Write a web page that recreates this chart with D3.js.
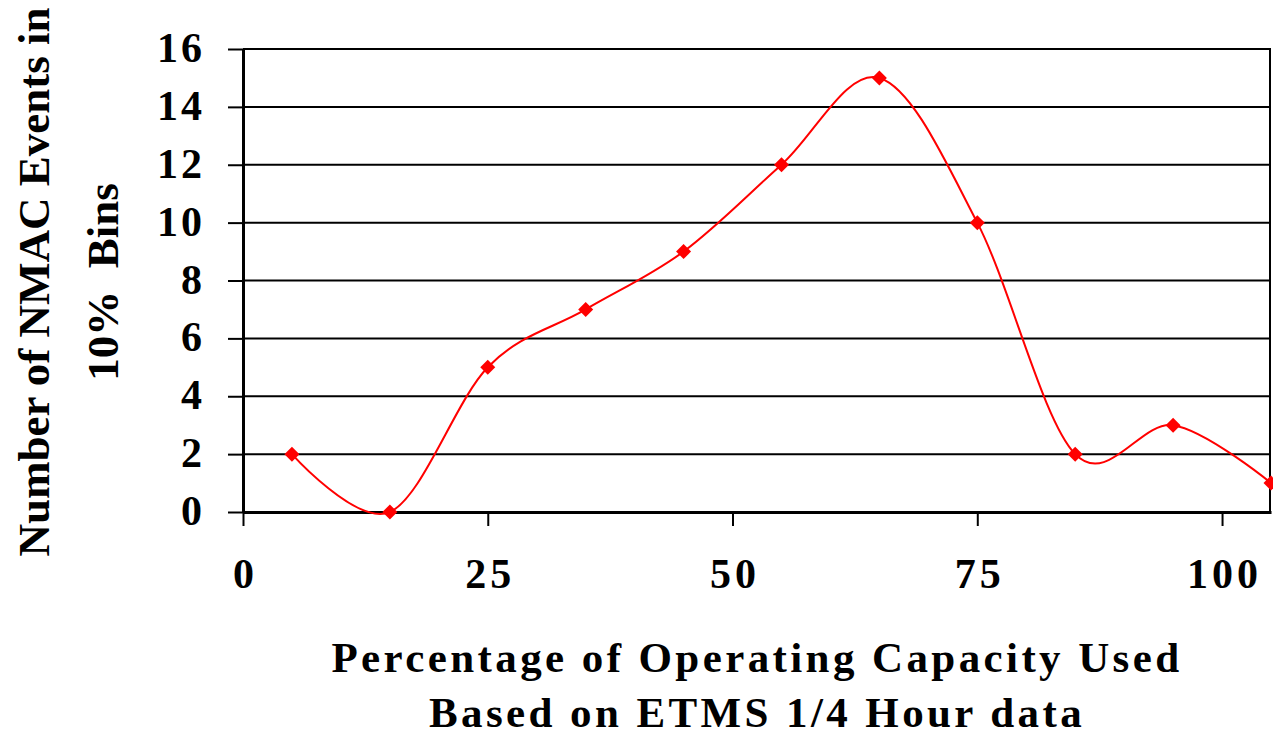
<!DOCTYPE html>
<html><head><meta charset="utf-8">
<script src="https://cdn.jsdelivr.net/npm/d3@7"></script>
<style>
html,body{margin:0;padding:0;background:#fff;}
svg{display:block;}
text{font-family:"Liberation Serif","Times New Roman",serif;font-weight:bold;fill:#000;}
</style></head>
<body>
<svg id="chart" width="1273" height="735"></svg>
<script>
const xValues = [5, 15, 25, 35, 45, 55, 65, 75, 85, 95, 105];
const yValues = [2, 0, 5, 7, 9, 12, 15, 10, 2, 3, 1];
const yTicks = [0, 2, 4, 6, 8, 10, 12, 14, 16];
const xTicks = [0, 25, 50, 75, 100];
const yTitle = ["Number of NMAC Events in", "10%  Bins"];
const xTitle = ["Percentage of Operating Capacity Used", "Based on ETMS 1/4 Hour data"];

const svg = d3.select("#chart");
const pLeft = 243, pRight = 1271, pTop = 49, pBottom = 512;
const x = d3.scaleLinear().domain([0, 105]).range([pLeft, pRight]);
const y = d3.scaleLinear().domain([0, 16]).range([pBottom, pTop]);

// gridlines
svg.append("g").selectAll("line").data(yTicks).join("line")
  .attr("x1", pLeft).attr("x2", x(105)).attr("y1", d => y(d)).attr("y2", d => y(d))
  .attr("stroke", "#000").attr("stroke-width", 2);
// right border
svg.append("line").attr("x1", x(105) - 1).attr("x2", x(105) - 1).attr("y1", y(16)).attr("y2", y(0))
  .attr("stroke", "#000").attr("stroke-width", 2);

// y axis
const yAxis = svg.append("g").attr("transform", `translate(${pLeft},0)`)
  .call(d3.axisLeft(y).tickValues(yTicks).tickSize(15).tickPadding(23).tickSizeOuter(0));
yAxis.select(".domain").attr("stroke-width", 3);
yAxis.selectAll(".tick line").attr("stroke-width", 2);
yAxis.selectAll(".tick text").attr("font-size", 42).attr("font-family", "Liberation Serif")
  .attr("font-weight", "bold").attr("letter-spacing", 3).attr("dy", "0.3em");

// x axis
const xAxis = svg.append("g").attr("transform", `translate(0,${pBottom})`)
  .call(d3.axisBottom(x).tickValues(xTicks).tickSize(14).tickPadding(32).tickSizeOuter(0));
xAxis.select(".domain").attr("stroke-width", 3);
xAxis.selectAll(".tick line").attr("stroke-width", 2);
xAxis.selectAll(".tick text").attr("font-size", 42).attr("font-family", "Liberation Serif")
  .attr("font-weight", "bold").attr("letter-spacing", 4).attr("dx", 2);

// line
const data = xValues.map((v, i) => [v, yValues[i]]);
const line = d3.line().x(d => x(d[0])).y(d => y(d[1])).curve(d3.curveCardinal.tension(0));
svg.append("path").datum(data).attr("d", line)
  .attr("fill", "none").attr("stroke", "#ff0000").attr("stroke-width", 2);

// markers
svg.append("g").selectAll("path").data(data).join("path")
  .attr("transform", d => `translate(${x(d[0])},${y(d[1])})`)
  .attr("d", "M0,-7.5L7.5,0L0,7.5L-7.5,0Z").attr("fill", "#ff0000");

// y title
const yt = svg.append("text").attr("transform", "translate(0,282) rotate(-90)")
  .attr("text-anchor", "middle").attr("font-size", 45);
yt.append("tspan").attr("x", 0).attr("y", 49).text(yTitle[0]);
yt.append("tspan").attr("x", 0).attr("y", 118).text(yTitle[1]).attr("xml:space", "preserve");

// x title
svg.append("text").attr("x", 757).attr("y", 672).attr("text-anchor", "middle")
  .attr("font-size", 43).attr("letter-spacing", 3.4).text(xTitle[0]);
svg.append("text").attr("x", 757).attr("y", 727).attr("text-anchor", "middle")
  .attr("font-size", 43).attr("letter-spacing", 3.4).text(xTitle[1]);
</script>
</body></html>
